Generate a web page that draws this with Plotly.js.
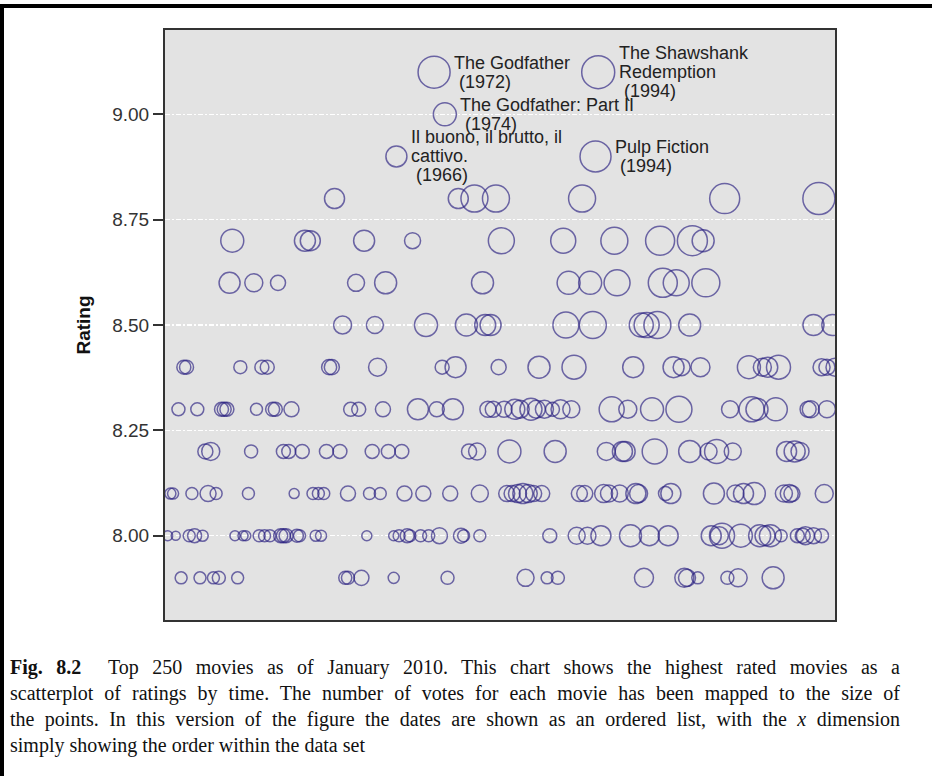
<!DOCTYPE html>
<html>
<head>
<meta charset="utf-8">
<script src="https://cdn.plot.ly/plotly-3.0.1.min.js"></script>
<style>
html,body{margin:0;padding:0;background:#fff;width:932px;height:776px;overflow:hidden;}
#chart{position:absolute;left:0;top:0;width:932px;height:776px;}
#frame{position:absolute;left:0;top:4px;width:932px;height:772px;border-top:4px solid #000;border-left:4px solid #000;box-sizing:border-box;pointer-events:none;}
#caption{position:absolute;left:10px;top:654px;width:890px;font-family:"Liberation Serif","Times New Roman",serif;font-size:20px;line-height:26px;color:#111;}
#caption div{white-space:nowrap;text-align:justify;text-align-last:justify;}
#caption div.last{text-align:left;text-align-last:left;}
</style>
</head>
<body>
<div id="chart"></div>
<div id="frame"></div>
<div id="caption">
<div><b>Fig. 8.2</b>&nbsp; Top 250 movies as of January 2010. This chart shows the highest rated movies as a</div>
<div>scatterplot of ratings by time. The number of votes for each movie has been mapped to the size of</div>
<div>the points. In this version of the figure the dates are shown as an ordered list, with the <i>x</i> dimension</div>
<div class="last">simply showing the order within the data set</div>
</div>
<script>
// Rating rows (one entry per row)
const rowRatings = [9.1, 9.0, 8.9, 8.8, 8.7, 8.6, 8.5, 8.4, 8.3, 8.2, 8.1, 8.0, 7.9];

// Order within the data set (x) for each movie, grouped by rating row
const rowOrder = [
  [101, 162],
  [105],
  [87, 161],
  [64, 110, 116, 124, 156, 209, 244],
  [26, 53, 55, 75, 93, 126, 149, 168, 185, 197, 201],
  [25, 34, 43, 72, 83, 119, 151, 159, 169, 186, 191, 202],
  [67, 79, 98, 113, 120, 122, 150, 160, 178, 180, 184, 196, 242, 249],
  [8, 9, 29, 37, 39, 62, 63, 80, 104, 109, 125, 140, 153, 175, 190, 193, 200, 218, 223, 225, 229, 245, 247, 250],
  [6, 13, 22, 23, 24, 35, 41, 42, 48, 70, 73, 82, 95, 102, 108, 121, 123, 127, 131, 133, 137, 139, 142, 145, 148, 152, 167, 173, 182, 192, 211, 219, 221, 228, 240, 241, 247],
  [16, 18, 33, 45, 47, 52, 61, 66, 78, 84, 89, 114, 117, 129, 146, 165, 171, 172, 183, 196, 203, 206, 212, 232, 235, 237],
  [3, 4, 11, 17, 20, 32, 49, 56, 58, 60, 69, 77, 81, 90, 97, 107, 118, 128, 130, 132, 134, 136, 138, 141, 155, 157, 164, 166, 170, 176, 177, 187, 189, 205, 213, 216, 220, 231, 233, 234, 246],
  [2, 5, 10, 12, 15, 27, 30, 31, 36, 38, 40, 44, 45, 46, 50, 51, 57, 59, 76, 86, 88, 91, 92, 96, 99, 103, 111, 112, 118, 144, 154, 158, 163, 174, 181, 188, 204, 207, 208, 215, 222, 224, 226, 230, 236, 238, 239, 242, 245],
  [7, 14, 19, 21, 28, 68, 69, 74, 86, 106, 135, 143, 147, 179, 194, 195, 199, 210, 214, 227]
];

// Number of votes (thousands), same grouping
const rowVotes = [
  [471, 501],
  [243],
  [203, 442],
  [184, 184, 335, 335, 335, 414, 471],
  [243, 203, 184, 203, 118, 311, 288, 335, 387, 414, 223],
  [203, 149, 104, 133, 223, 223, 243, 243, 311, 387, 311, 361],
  [149, 133, 243, 223, 203, 203, 311, 335, 265, 288, 335, 223, 203, 203],
  [90, 90, 78, 90, 90, 104, 104, 149, 90, 203, 104, 223, 265, 203, 203, 133, 166, 243, 149, 184, 265, 133, 118, 149],
  [78, 78, 90, 90, 90, 66, 90, 90, 104, 90, 90, 104, 203, 104, 203, 118, 118, 118, 184, 149, 223, 149, 149, 90, 166, 133, 288, 149, 243, 311, 133, 288, 223, 243, 118, 133, 133],
  [104, 149, 78, 90, 90, 90, 90, 90, 90, 90, 90, 104, 133, 243, 223, 149, 184, 184, 288, 223, 133, 265, 133, 184, 203, 149],
  [56, 56, 66, 118, 66, 66, 46, 66, 66, 66, 104, 66, 66, 104, 104, 104, 133, 118, 118, 149, 184, 149, 118, 118, 118, 118, 149, 133, 133, 184, 149, 90, 184, 203, 133, 184, 223, 133, 149, 118, 149],
  [46, 37, 66, 90, 56, 46, 46, 46, 66, 66, 66, 90, 90, 90, 78, 66, 56, 56, 46, 46, 66, 90, 66, 66, 66, 118, 104, 66, 66, 90, 133, 133, 184, 223, 184, 184, 184, 149, 288, 243, 223, 184, 223, 66, 90, 104, 149, 118, 90],
  [66, 66, 66, 78, 66, 78, 78, 104, 56, 78, 133, 66, 78, 166, 166, 133, 66, 78, 149, 223]
];

// Labelled movies
const labelOrder  = [101, 162, 105, 87, 161];
const labelRating = [9.1, 9.1, 9.0, 8.9, 8.9];
const labelLines  = [
  ["The Godfather", "(1972)"],
  ["The Shawshank", "Redemption", "(1994)"],
  ["The Godfather: Part II", "(1974)"],
  ["Il buono, il brutto, il", "cattivo.", "(1966)"],
  ["Pulp Fiction", "(1994)"]
];

const yTicks = [8.00, 8.25, 8.50, 8.75, 9.00];

// flatten
const xs = [], ys = [], vs = [];
rowRatings.forEach((r, i) => {
  rowOrder[i].forEach((o, j) => { xs.push(o); ys.push(r); vs.push(rowVotes[i][j]); });
});

const SIZEREF = 0.92;
const diam = v => Math.sqrt(2 * v / SIZEREF);

const annotations = [];
labelOrder.forEach((o, k) => {
  const r = labelRating[k];
  let v = 200;
  for (let i = 0; i < xs.length; i++) if (xs[i] === o && ys[i] === r) { v = vs[i]; break; }
  const rad = diam(v) / 2;
  const lines = labelLines[k];
  const n = lines.length;
  lines.forEach((t, i) => {
    annotations.push({
      x: o, y: r, xref: 'x', yref: 'y', text: t, showarrow: false,
      xanchor: 'left', yanchor: 'middle',
      xshift: rad + 2 + (t.charAt(0) === '(' ? 5 : 0),
      yshift: ((n - 1) / 2 - i) * 19,
      font: {family: 'Liberation Sans, Arial, sans-serif', size: 18, color: '#222'}
    });
  });
});

const trace = {
  type: 'scatter', mode: 'markers', x: xs, y: ys,
  marker: {
    size: vs, sizemode: 'area', sizeref: SIZEREF, symbol: 'circle',
    color: 'rgba(0,0,0,0)',
    line: {color: 'rgba(40,30,128,0.92)', width: 1.5}
  },
  hoverinfo: 'skip', cliponaxis: true
};

const layout = {
  width: 932, height: 776,
  margin: {l: 165, r: 97, t: 30, b: 156, pad: 0},
  paper_bgcolor: '#ffffff', plot_bgcolor: '#e3e3e3',
  showlegend: false, hovermode: false,
  xaxis: {
    range: [1, 250], showticklabels: false, ticks: '', showgrid: false, zeroline: false,
    showline: true, mirror: true, linecolor: '#333', linewidth: 2, fixedrange: true
  },
  yaxis: {
    range: [7.8, 9.2], tickvals: yTicks, tickformat: '.2f',
    ticks: 'outside', ticklen: 10, tickwidth: 2, tickcolor: '#333',
    tickfont: {family: 'Liberation Sans, Arial, sans-serif', size: 19, color: '#333'},
    showgrid: true, gridcolor: '#ffffff', gridwidth: 1.5, griddash: '5px,2px,2px,2px',
    zeroline: false, showline: true, mirror: true, linecolor: '#333', linewidth: 2,
    automargin: false, fixedrange: true,
    title: {text: 'Rating', standoff: 17, font: {family: 'Liberation Sans, Arial, sans-serif', size: 19, color: '#111', weight: 'bold'}}
  },
  annotations: annotations
};

Plotly.newPlot('chart', [trace], layout, {displayModeBar: false, staticPlot: true});
</script>
</body>
</html>
